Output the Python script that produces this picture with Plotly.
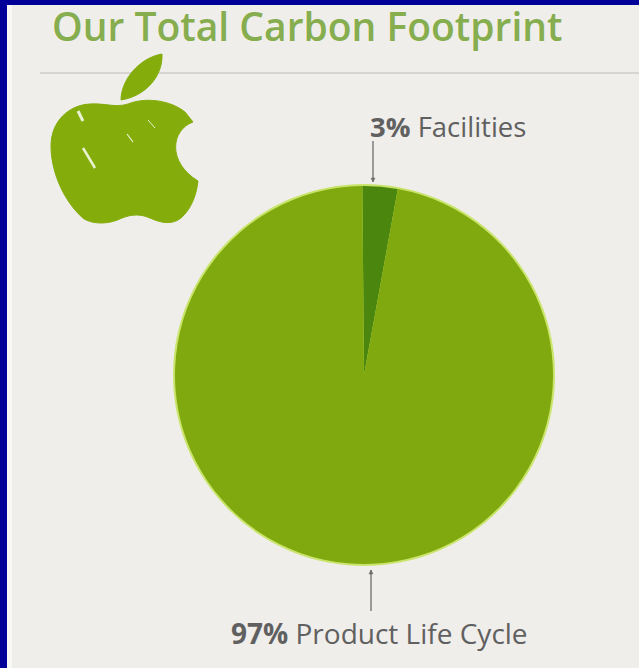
import plotly.graph_objects as go

W, H = 639, 668

categories = ["Facilities", "Product Life Cycle"]
values = [3, 97]
colors = ["#4b870f", "#80a90f"]
title_text = "Our Total Carbon Footprint"
label_texts = ["<b>3%</b> Facilities", "<b>97%</b> Product Life Cycle"]


def px(x):
    return x / W


def py(y):
    return 1 - y / H


def path_px(cmds):
    out = []
    for c in cmds:
        if isinstance(c, str):
            out.append(c)
        else:
            out.append(f"{px(c[0]):.5f},{py(c[1]):.5f}")
    return " ".join(out)


# pie geometry in pixels
cx, cy, r = 364, 375, 189

fig = go.Figure()
fig.add_trace(go.Pie(
    labels=categories,
    values=values,
    sort=False,
    direction="clockwise",
    rotation=-0.5,
    marker=dict(colors=colors, line=dict(width=0)),
    textinfo="none",
    hoverinfo="label+percent",
    showlegend=False,
    domain=dict(x=[px(cx - r), px(cx + r)], y=[py(cy + r), py(cy - r)]),
))

shapes = []
# blue frame
shapes.append(dict(type="rect", xref="paper", yref="paper", x0=0, x1=1, y0=py(5), y1=1,
                   fillcolor="#000099", line=dict(width=0), layer="above"))
shapes.append(dict(type="rect", xref="paper", yref="paper", x0=0, x1=px(7), y0=0, y1=1,
                   fillcolor="#000099", line=dict(width=0), layer="above"))
# inner light edge
shapes.append(dict(type="rect", xref="paper", yref="paper", x0=px(7), x1=px(12), y0=0, y1=py(5),
                   fillcolor="#f8f8f6", line=dict(width=0), layer="below"))
# separator line
shapes.append(dict(type="line", xref="paper", yref="paper", x0=px(40), x1=1, y0=py(73), y1=py(73),
                   line=dict(color="#cfcdca", width=1.5), layer="below"))
# light rim around pie
shapes.append(dict(type="circle", xref="paper", yref="paper",
                   x0=px(cx - r - 2), x1=px(cx + r + 2), y0=py(cy + r + 2), y1=py(cy - r - 2),
                   fillcolor="#c9e46a", line=dict(width=0), layer="below"))

# apple logo
apple_green = "#84ad0c"
body = ["M", (128, 104),
        "C", (145, 97), (170, 100), (185, 112),
        "L", (193, 122),
        "C", (171, 130), (167, 162), (198, 181),
        "C", (196, 199), (189, 211), (181, 218),
        "C", (171, 226), (159, 222), (150, 218),
        "C", (141, 214), (132, 214), (122, 218),
        "C", (110, 224), (95, 225), (84, 219),
        "C", (64, 202), (51, 172), (51, 146),
        "C", (51, 121), (69, 105), (90, 104),
        "C", (105, 103), (115, 108), (128, 104), "Z"]
leaf = ["M", (121, 100), "C", (121, 80), (139, 58), (162, 54),
        "C", (163, 76), (146, 96), (121, 100), "Z"]
shapes.append(dict(type="path", xref="paper", yref="paper", path=path_px(body),
                   fillcolor=apple_green, line=dict(color=apple_green, width=1)))
shapes.append(dict(type="path", xref="paper", yref="paper", path=path_px(leaf),
                   fillcolor=apple_green, line=dict(color=apple_green, width=1)))
# highlight streaks
for (x0, y0, x1, y1, w) in [(78, 111, 83, 121, 3), (83, 148, 95, 168, 2.5),
                            (127, 134, 133, 142, 1.2), (148, 120, 155, 128, 1)]:
    shapes.append(dict(type="line", xref="paper", yref="paper",
                       x0=px(x0), y0=py(y0), x1=px(x1), y1=py(y1),
                       line=dict(color="#e8f2cf", width=w)))

# label pointer lines
for (x, y0, y1, tip) in [(373, 141, 182, 182), (371, 611, 570, 570)]:
    shapes.append(dict(type="line", xref="paper", yref="paper", x0=px(x), x1=px(x),
                       y0=py(y0), y1=py(y1), line=dict(color="#6d6d6d", width=1.3)))
    d = 4 if tip > y0 else -4
    shapes.append(dict(type="path", xref="paper", yref="paper",
                       path=path_px(["M", (x - 2, tip - d), "L", (x + 2, tip - d), "L", (x, tip), "Z"]),
                       fillcolor="#6d6d6d", line=dict(color="#6d6d6d", width=0.5)))

annotations = [
    dict(text=title_text, xref="paper", yref="paper", x=px(50), y=py(25),
         xanchor="left", yanchor="middle", showarrow=False,
         font=dict(family="Open Sans", size=39, color="#86ad4e", weight=600)),
    dict(text=label_texts[0], xref="paper", yref="paper", x=px(368), y=py(127),
         xanchor="left", yanchor="middle", showarrow=False,
         font=dict(family="Open Sans", size=27.5, color="#606060")),
    dict(text=label_texts[1], xref="paper", yref="paper", x=px(229), y=py(633),
         xanchor="left", yanchor="middle", showarrow=False,
         font=dict(family="Open Sans", size=28, color="#606060")),
]

fig.update_layout(
    width=W, height=H,
    margin=dict(l=0, r=0, t=0, b=0),
    paper_bgcolor="#f0eeeb",
    plot_bgcolor="#f0eeeb",
    shapes=shapes,
    annotations=annotations,
    showlegend=False,
)

fig.write_html("out.html")
